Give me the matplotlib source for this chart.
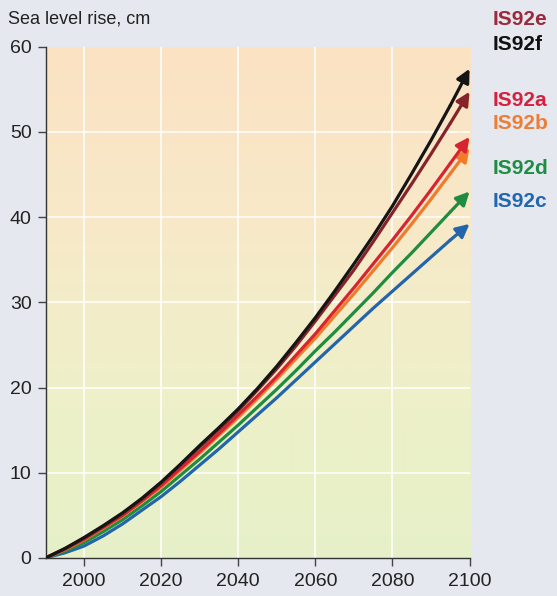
import numpy as np
import matplotlib
matplotlib.use("Agg")
import matplotlib.pyplot as plt
from matplotlib.colors import LinearSegmentedColormap

plt.rcParams['font.family'] = ['Liberation Sans', 'DejaVu Sans']

years = [1990, 1995, 2000, 2005, 2010, 2015, 2020, 2025, 2030, 2035, 2040, 2045,
         2050, 2055, 2060, 2065, 2070, 2075, 2080, 2085, 2090, 2095, 2100]

# sea level rise, cm
is92c = [0, 0.6, 1.4, 2.6, 4.0, 5.6, 7.2, 9.0, 10.9, 12.8, 14.8, 16.8,
         18.8, 20.9, 23.0, 25.1, 27.2, 29.3, 31.3, 33.3, 35.3, 37.3, 39.2]
is92d = [0, 0.8, 1.8, 3.1, 4.5, 6.1, 7.8, 9.7, 11.6, 13.6, 15.6, 17.7,
         19.8, 22.0, 24.3, 26.5, 28.8, 31.1, 33.5, 35.8, 38.2, 40.6, 43.0]
is92b = [0, 0.95, 2.1, 3.5, 4.9, 6.6, 8.3, 10.3, 12.3, 14.4, 16.5, 18.7,
         21.0, 23.4, 25.8, 28.4, 31.0, 33.7, 36.4, 39.2, 42.1, 45.1, 48.1]
is92a = [0, 1.0, 2.2, 3.6, 5.0, 6.7, 8.5, 10.5, 12.5, 14.6, 16.8, 19.0,
         21.3, 23.8, 26.3, 29.0, 31.7, 34.5, 37.3, 40.2, 43.2, 46.3, 49.4]
is92e = [0, 1.1, 2.3, 3.7, 5.2, 6.9, 8.8, 10.9, 13.0, 15.1, 17.3, 19.7,
         22.2, 24.9, 27.8, 30.8, 33.8, 37.1, 40.5, 43.9, 47.4, 51.0, 54.7]
is92f = [0, 1.1, 2.4, 3.8, 5.3, 7.0, 8.9, 11.0, 13.2, 15.3, 17.5, 19.9,
         22.5, 25.3, 28.2, 31.3, 34.5, 37.8, 41.3, 45.1, 49.0, 53.1, 57.4]

series = [
    ("IS92c", is92c, "#2265ab"),
    ("IS92d", is92d, "#1f8c3f"),
    ("IS92b", is92b, "#ef7b2b"),
    ("IS92a", is92a, "#d82430"),
    ("IS92e", is92e, "#86232a"),
    ("IS92f", is92f, "#151515"),
]

# label order and colours on the right
labels = ["IS92e", "IS92f", "IS92a", "IS92b", "IS92d", "IS92c"]
label_colors = ["#9a2a3c", "#111111", "#d6203e", "#ee7d35", "#1f8c45", "#2266ad"]
label_y = [0.967, 0.925, 0.832, 0.792, 0.718, 0.662]

fig = plt.figure(figsize=(5.57, 5.96), dpi=100)
fig.patch.set_facecolor("#e5e8ee")
ax = fig.add_axes([0.0817, 0.0638, 0.7613, 0.858])

# background gradient
cmap = LinearSegmentedColormap.from_list(
    "bg", ["#e6f0c9", "#eef0c8", "#f8e9c8", "#fbe2c3"])
grad = np.linspace(0, 1, 256).reshape(-1, 1)
ax.imshow(grad, extent=[1990, 2100, 0, 60], origin="lower", aspect="auto",
          cmap=cmap, zorder=0)

ax.set_xlim(1990, 2100)
ax.set_ylim(0, 60)

for x in [2000, 2020, 2040, 2060, 2080]:
    ax.axvline(x, color="white", lw=1.3, alpha=0.85, zorder=1)
for y in [10, 20, 30, 40, 50]:
    ax.axhline(y, color="white", lw=1.3, alpha=0.85, zorder=1)

for name, vals, col in series:
    ax.plot(years[:-1], vals[:-1], color=col, lw=2.3, solid_capstyle="round",
            solid_joinstyle="round", zorder=3)
    ax.annotate("", xy=(years[-1], vals[-1]), xytext=(years[-2], vals[-2]),
                arrowprops=dict(arrowstyle="-|>", color=col, lw=2.3,
                                mutation_scale=20, shrinkA=0, shrinkB=0),
                zorder=3, annotation_clip=False)

for lab, c, ly in zip(labels, label_colors, label_y):
    fig.text(0.884, ly, lab, color=c, fontsize=15, fontweight="bold",
             va="center", ha="left")

fig.text(0.014, 0.968, "Sea level rise, cm", fontsize=13, color="#222222",
         va="center", ha="left")

for s in ["top", "right"]:
    ax.spines[s].set_visible(False)
for s in ["left", "bottom"]:
    ax.spines[s].set_color("#333333")
    ax.spines[s].set_linewidth(1.0)

ax.set_xticks([2000, 2020, 2040, 2060, 2080, 2100])
ax.set_yticks([0, 10, 20, 30, 40, 50, 60])
ax.tick_params(axis="both", direction="out", length=6, width=1.0,
               color="#444444", labelsize=14, labelcolor="#222222")
ax.tick_params(axis="y", pad=4)
ax.tick_params(axis="x", pad=5)

fig.savefig("out.png", dpi=100, facecolor=fig.get_facecolor())
